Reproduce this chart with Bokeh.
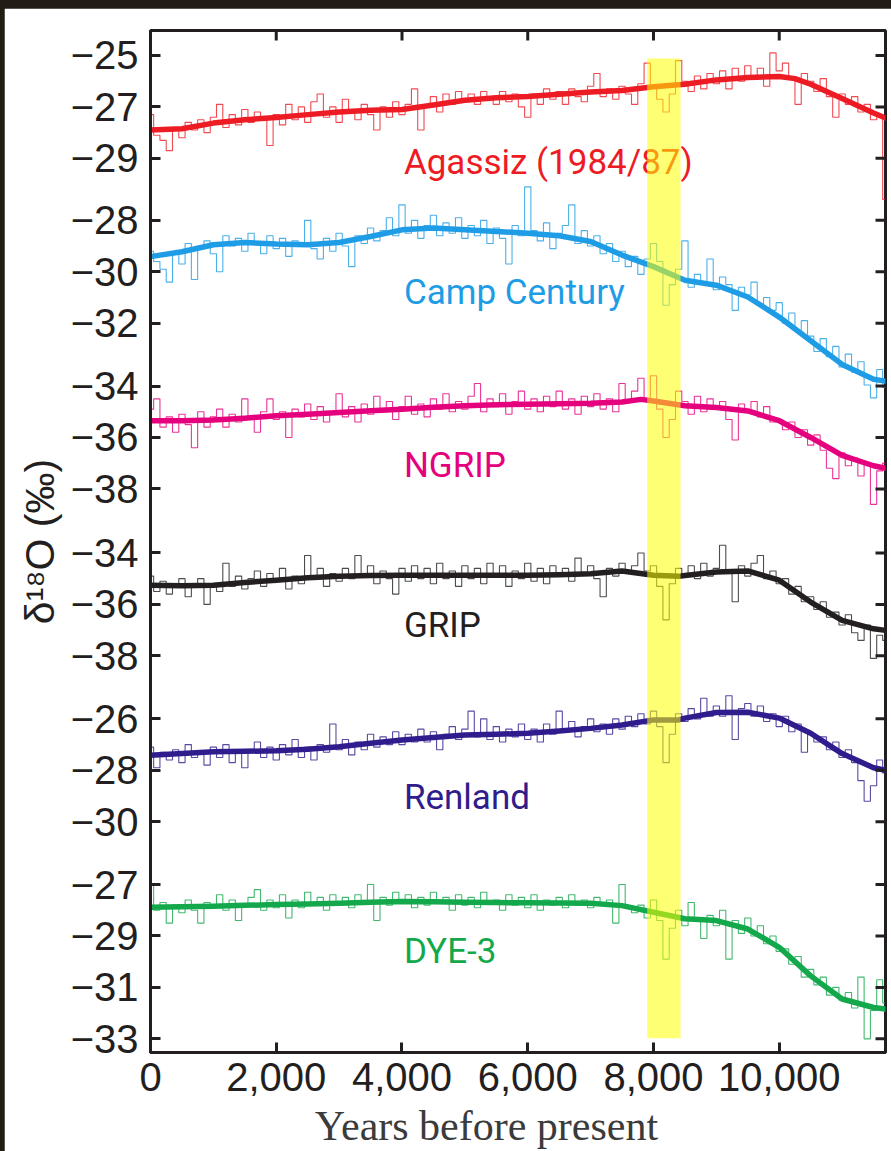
from bokeh.plotting import figure
from bokeh.models import (Range1d, FixedTicker, NumeralTickFormatter, ColumnDataSource)
from bokeh.embed import file_html
from bokeh.resources import INLINE
from bokeh.core.properties import value

# ---------------- data (delta 18O, permil) ----------------
raw_years = list(range(0, 11700, 100)) + [11690]

agassiz_raw = [
    -27.3, -28.1, -28.3, -28.7, -27.8, -28.2, -27.6, -27.9, -27.5, -28.0,
    -27.4, -26.9, -27.8, -27.3, -27.7, -27.1, -27.6, -27.2, -27.5, -28.5,
    -27.3, -27.7, -26.9, -27.5, -27.0, -27.6, -26.8, -26.5, -27.4, -27.0,
    -27.6, -26.7, -27.2, -27.5, -26.9, -27.3, -27.9, -27.0, -27.4, -26.8,
    -27.3, -26.9, -26.3, -27.9, -27.0, -26.6, -27.2, -26.5, -26.9, -26.4,
    -26.8, -26.5, -26.9, -26.4, -26.7, -26.9, -26.4, -26.8, -26.5, -27.0,
    -27.4, -26.5, -26.9, -26.3, -26.7, -26.4, -26.9, -26.3, -26.6, -26.8,
    -26.2, -25.7, -26.6, -26.3, -26.7, -26.2, -26.5, -26.9, -26.1, -25.3,
    -26.2, -26.7, -27.2, -26.5, -25.2, -26.0, -26.4, -25.8, -26.3, -25.7,
    -26.1, -25.6, -26.3, -25.5, -26.0, -25.4, -25.9, -25.5, -26.2, -24.9,
    -25.6, -25.3, -25.9, -26.9, -25.7, -26.0, -26.4, -25.9, -26.6, -27.4,
    -26.5, -26.9, -26.6, -27.2, -26.9, -27.5, -27.3, -30.6]
camp_raw = [
    -29.2, -29.6, -29.9, -30.4, -29.3, -29.7, -28.9, -30.3, -29.1, -28.8,
    -29.3, -30.0, -28.6, -29.0, -28.7, -29.2, -28.5, -28.9, -29.3, -28.6,
    -29.1, -28.7, -29.4, -28.8, -29.0, -28.0, -29.1, -29.5, -28.7, -29.2,
    -28.5, -29.0, -29.8, -28.6, -28.9, -28.3, -28.8, -28.4, -27.9, -28.6,
    -27.4, -28.5, -28.0, -28.7, -28.2, -27.8, -28.6, -28.1, -28.5, -27.9,
    -28.7, -28.2, -28.6, -28.0, -28.9, -28.3, -28.7, -29.7, -28.2, -28.6,
    -26.7, -28.4, -28.8, -28.1, -29.1, -28.5, -28.2, -27.4, -28.9, -28.4,
    -29.0, -28.6, -29.3, -28.9, -29.6, -29.2, -29.8, -29.4, -30.1, -29.5,
    -28.9, -29.6, -31.3, -30.5, -29.9, -28.8, -30.6, -30.1, -30.4, -29.5,
    -30.7, -30.2, -30.5, -31.5, -30.6, -30.9, -30.4, -31.3, -31.0, -31.5,
    -31.2, -32.0, -31.6, -32.3, -31.9, -32.5, -33.1, -32.6, -33.3, -32.9,
    -33.7, -33.2, -33.9, -33.5, -34.4, -34.9, -33.8, -34.5]
ngrip_raw = [
    -34.9, -34.5, -35.6, -35.2, -35.8, -35.1, -35.5, -36.4, -35.0, -35.6,
    -35.2, -34.9, -35.6, -35.1, -35.4, -34.5, -35.3, -35.8, -35.0, -34.5,
    -35.3, -35.0, -36.0, -34.9, -35.2, -34.7, -35.3, -34.8, -35.4, -35.0,
    -34.3, -35.2, -34.8, -35.4, -34.7, -35.1, -34.4, -35.0, -34.6, -35.3,
    -34.8, -34.4, -35.1, -34.7, -35.2, -34.5, -34.9, -34.3, -35.0, -34.6,
    -34.9, -34.4, -33.9, -35.0, -34.5, -34.8, -34.3, -35.1, -34.6, -34.2,
    -34.9, -34.5, -35.0, -34.4, -34.8, -34.2, -34.9, -34.5, -35.1, -34.4,
    -34.8, -34.3, -34.9, -34.5, -35.0, -33.9, -34.6, -34.2, -33.7, -34.5,
    -33.6, -34.9, -36.0, -35.3, -34.2, -34.6, -35.1, -34.4, -35.0, -34.5,
    -34.9, -34.6, -35.3, -36.1, -34.7, -35.0, -34.6, -35.2, -34.8, -35.4,
    -35.3, -35.7, -35.4, -36.0, -35.7, -36.3, -35.9, -36.5, -37.2, -37.6,
    -36.6, -37.1, -36.8, -37.5, -37.0, -38.6, -37.3, -37.0]
grip_raw = [
    -34.9, -35.5, -35.1, -35.6, -35.2, -35.0, -35.7, -35.3, -35.0, -36.0,
    -35.2, -35.5, -34.4, -35.3, -34.9, -35.4, -35.0, -34.7, -35.3, -34.8,
    -35.1, -34.6, -35.4, -34.9, -35.2, -34.1, -35.0, -34.6, -35.3, -34.8,
    -35.1, -34.6, -35.0, -34.1, -34.9, -34.5, -35.2, -34.7, -35.0, -35.6,
    -34.6, -35.1, -34.5, -35.0, -34.6, -35.2, -34.4, -35.0, -34.7, -35.3,
    -34.5, -35.0, -34.6, -35.2, -34.4, -34.9, -34.5, -35.3, -34.7, -35.0,
    -34.4, -35.1, -34.6, -35.2, -34.5, -34.9, -34.6, -35.1, -34.2, -34.8,
    -34.5, -35.0, -35.7, -34.6, -34.9, -34.4, -34.8, -34.5, -34.0, -34.7,
    -34.5, -35.3, -36.6, -35.2, -34.6, -34.9, -34.5, -35.0, -34.4, -34.9,
    -34.6, -33.7, -34.8, -35.9, -34.5, -34.9, -34.4, -34.1, -35.0, -34.7,
    -35.2, -35.0, -35.6, -35.3, -35.9, -35.7, -36.2, -35.9, -36.5, -36.3,
    -36.8, -36.4, -37.1, -37.4, -36.8, -38.1, -37.2, -37.4]
renland_raw = [
    -27.1, -27.9, -27.3, -27.6, -27.2, -27.7, -27.0, -27.5, -27.3, -27.8,
    -27.1, -27.5, -27.0, -27.7, -27.2, -27.9, -27.3, -26.9, -27.5, -27.1,
    -27.6, -27.0, -27.4, -26.8, -27.5, -27.1, -27.6, -27.0, -27.3, -26.2,
    -27.2, -26.8, -27.4, -26.9, -27.2, -26.6, -27.1, -26.7, -27.0, -26.5,
    -27.0, -26.6, -26.9, -26.4, -26.9, -26.5, -27.2, -26.6, -26.3, -26.8,
    -26.4, -25.7, -26.7, -26.0, -26.8, -26.3, -26.9, -26.4, -26.7, -26.2,
    -26.8, -26.4, -26.9, -26.2, -26.6, -25.7, -26.5, -26.1, -26.7, -26.3,
    -26.0, -26.5, -26.2, -26.6, -26.0, -26.4, -25.9, -26.3, -25.8, -26.2,
    -25.7, -26.3, -27.7, -26.6, -25.8, -26.1, -25.6, -26.0, -25.2, -25.9,
    -25.5, -25.9, -25.1, -26.8, -25.6, -25.4, -25.9, -25.5, -26.1, -25.8,
    -26.3, -25.9, -26.5, -26.2, -27.3, -26.6, -26.9, -26.7, -27.2, -26.9,
    -27.5, -27.2, -27.7, -28.4, -29.2, -28.6, -27.6, -28.1]
dye3_raw = [
    -27.0, -28.0, -27.7, -28.5, -27.8, -28.1, -27.6, -28.0, -28.5, -27.7,
    -27.9, -27.4, -28.0, -27.6, -28.4, -27.8, -27.5, -27.2, -28.0, -27.6,
    -27.9, -27.4, -28.3, -27.6, -27.9, -27.3, -27.8, -27.5, -28.0, -27.4,
    -27.8, -27.5, -27.9, -27.4, -27.7, -27.0, -28.4, -27.5, -27.8, -27.3,
    -27.7, -27.4, -27.9, -27.5, -27.8, -27.3, -27.7, -27.5, -28.0, -27.4,
    -27.8, -27.5, -27.9, -27.3, -27.7, -27.6, -28.0, -27.4, -27.8, -27.5,
    -27.9, -27.4, -28.0, -27.6, -27.8, -27.5, -27.9, -27.4, -27.8, -27.6,
    -27.9, -27.5, -27.8, -27.6, -28.5, -27.0, -27.9, -28.1, -27.8, -28.3,
    -27.6, -28.4, -29.9, -28.7, -28.0, -28.6, -27.7, -28.3, -29.1, -28.2,
    -28.6, -28.0, -29.9, -28.4, -28.9, -28.3, -29.0, -28.6, -29.3, -29.0,
    -29.6, -29.5, -30.1, -29.8, -30.6, -30.3, -30.9, -30.6, -31.3, -31.0,
    -31.5, -31.2, -31.8, -30.6, -33.0, -31.9, -30.7, -31.6]

std_years = [0, 500, 1000, 1500, 2000, 2500, 3000, 3500, 4000, 4500, 5000, 5500,
             6000, 6500, 7000, 7500, 8000, 8500, 9000, 9500, 10000, 10500, 11000,
             11500, 11690]
agassiz_sm_years = [0, 500, 1000, 1500, 2000, 2500, 3000, 3500, 4000, 4500, 5000,
                    5500, 6000, 6500, 7000, 7500, 8000, 8500, 9000, 9500, 10000,
                    10250, 10500, 11000, 11500, 11690]
agassiz_smooth = [-27.9, -27.85, -27.63, -27.5, -27.41, -27.3, -27.2, -27.13, -27.1,
                  -26.93, -26.74, -26.64, -26.6, -26.51, -26.42, -26.36, -26.22,
                  -26.12, -25.95, -25.86, -25.82, -25.9, -26.12, -26.67, -27.24, -27.43]
camp_smooth = [-29.41, -29.22, -28.95, -28.86, -28.92, -28.95, -28.86, -28.63, -28.37,
               -28.3, -28.37, -28.43, -28.5, -28.6, -28.82, -29.35, -29.8, -30.33,
               -30.52, -30.98, -31.76, -32.68, -33.6, -34.18, -34.25]
ngrip_sm_years = [0, 500, 1000, 1500, 2000, 2500, 3000, 3500, 4000, 4500, 5000, 5500,
                  6000, 6500, 7000, 7500, 7800, 8000, 8500, 9000, 9500, 10000, 10500,
                  11000, 11500, 11690]
ngrip_smooth = [-35.35, -35.35, -35.32, -35.25, -35.16, -35.1, -35.03, -34.96, -34.9,
                -34.83, -34.77, -34.73, -34.71, -34.69, -34.67, -34.62, -34.52, -34.58,
                -34.77, -34.84, -34.97, -35.35, -36.0, -36.7, -37.1, -37.2]
grip_sm_years = [0, 500, 1000, 1500, 2000, 2500, 3000, 3500, 4000, 4500, 5000, 5500,
                 6000, 6500, 7000, 7500, 8000, 8400, 8500, 9000, 9500, 10000, 10500,
                 11000, 11500, 11690]
grip_smooth = [-35.26, -35.28, -35.26, -35.15, -35.06, -34.96, -34.91, -34.88, -34.87,
               -34.87, -34.87, -34.87, -34.87, -34.85, -34.81, -34.7, -34.87, -34.91,
               -34.88, -34.74, -34.7, -35.06, -35.91, -36.62, -36.95, -37.01]
renland_sm_years = grip_sm_years
renland_smooth = [-27.41, -27.35, -27.28, -27.26, -27.24, -27.18, -27.08, -26.95, -26.82,
                  -26.72, -26.63, -26.6, -26.56, -26.47, -26.37, -26.24, -26.04, -26.04,
                  -25.97, -25.75, -25.74, -25.97, -26.56, -27.35, -27.9, -28.0]
dye3_smooth = [-27.88, -27.86, -27.84, -27.81, -27.78, -27.76, -27.73, -27.69, -27.66,
               -27.67, -27.69, -27.7, -27.71, -27.72, -27.73, -27.82, -28.08, -28.33,
               -28.4, -28.73, -29.44, -30.55, -31.45, -31.78, -31.84]

series_names = ["Agassiz (1984/87)", "Camp Century", "NGRIP", "GRIP", "Renland", "DYE-3"]
series_ticks = [[-25, -27, -29], [-28, -30, -32], [-34, -36, -38],
                [-34, -36, -38], [-26, -28, -30], [-27, -29, -31, -33]]
x_ticks = [0, 2000, 4000, 6000, 8000, 10000]
event_start, event_end = 7900, 8430   # 8.2 ka event band (years BP)

# ---------------- layout / style ----------------
colors = ["#ED1C24", "#1E9CE5", "#E5007E", "#231F20", "#301C8C", "#13A84B"]
offsets = [0.0, -3.41, -3.85, -10.34, -24.79, -30.23]   # stacking of panels
label_vals = [-29.15, -30.81, -37.1, -36.81, -29.07, -29.6]  # label baselines (own scale)
label_year = 4030
band_top, band_bottom = -25.12, -63.21
y_lo, y_hi = -63.76, -24.03
x_max = 11690
tick_len_x, tick_len_y = 159, 0.39   # 10 px inward ticks on top / right

raw_sets = [agassiz_raw, camp_raw, ngrip_raw, grip_raw, renland_raw, dye3_raw]
smooth_sets = [(agassiz_sm_years, agassiz_smooth), (std_years, camp_smooth),
               (ngrip_sm_years, ngrip_smooth), (grip_sm_years, grip_smooth),
               (renland_sm_years, renland_smooth), (std_years, dye3_smooth)]

AX = "#231F20"
p = figure(width=887, height=1143, x_range=Range1d(0, x_max), y_range=Range1d(y_lo, y_hi),
           output_backend="svg", toolbar_location=None,
           min_border_left=146, min_border_right=6, min_border_top=22, min_border_bottom=98)
p.margin = (8, 0, 0, 4)
p.background_fill_color = "white"
p.border_fill_color = "white"
p.outline_line_color = AX
p.outline_line_width = 3
p.xgrid.visible = False
p.ygrid.visible = False

for raw, (sy, sv), col, off in zip(raw_sets, smooth_sets, colors, offsets):
    p.step(raw_years, [v + off for v in raw], mode="center", line_color=col,
           line_width=1.1, line_alpha=0.8)
    p.line(sy, [v + off for v in sv], line_color=col, line_width=5.5,
           line_cap="round", line_join="round")

lab_src = ColumnDataSource(dict(x=[label_year] * len(series_names),
                                y=[v + o for v, o in zip(label_vals, offsets)],
                                text=series_names, color=colors))
p.text(x="x", y="y", text="text", text_color="color", source=lab_src,
       text_font=value("Roboto"), text_font_size=value("35px"),
       text_baseline="alphabetic", text_align="left")

# 8.2 ka event highlight
p.quad(left=[event_start], right=[event_end], top=[band_top], bottom=[band_bottom],
       fill_color="#FFFF00", fill_alpha=0.55, line_color=None)

# y ticks (stacked panels)
all_ticks, overrides = [], {}
for tks, off in zip(series_ticks, offsets):
    for t in tks:
        pos = round(t + off, 3)
        all_ticks.append(pos)
        overrides[pos] = "\u2212%d" % abs(t)

# mirrored inward ticks on the top and right edges of the frame
p.segment(x0=x_ticks, x1=x_ticks, y0=[y_hi] * len(x_ticks),
          y1=[y_hi - tick_len_y] * len(x_ticks), line_color=AX, line_width=3)
p.segment(x0=[x_max] * len(all_ticks), x1=[x_max - tick_len_x] * len(all_ticks),
          y0=all_ticks, y1=all_ticks, line_color=AX, line_width=3)


def style_axis(ax):
    ax.axis_line_color = AX
    ax.axis_line_width = 3
    ax.major_tick_line_color = AX
    ax.major_tick_line_width = 3
    ax.major_tick_in = 10
    ax.major_tick_out = 0
    ax.minor_tick_line_color = None
    ax.major_label_text_font = "Liberation Sans"
    ax.major_label_text_font_size = "40px"
    ax.major_label_text_color = AX
    ax.axis_label_text_font_style = "normal"


yax = p.yaxis[0]
yax.ticker = FixedTicker(ticks=all_ticks, minor_ticks=[])
yax.major_label_overrides = overrides
style_axis(yax)
yax.major_label_standoff = 12
yax.axis_label = "\u03b4\u00b9\u2078O (\u2030)"
yax.axis_label_text_font = "Liberation Sans"
yax.axis_label_text_font_size = "41px"
yax.axis_label_text_color = AX
yax.axis_label_standoff = 5

xax = p.xaxis[0]
xax.ticker = FixedTicker(ticks=x_ticks, minor_ticks=[])
xax.formatter = NumeralTickFormatter(format="0,0")
style_axis(xax)
xax.major_label_standoff = 10
xax.axis_label = "Years before present" + "\u00a0" * 6
xax.axis_label_text_font = "Liberation Serif"
xax.axis_label_text_font_size = "42px"
xax.axis_label_text_color = "#3B3B3B"
xax.axis_label_standoff = 9

html = file_html(p, INLINE, title="d18O Greenland ice cores")
html = html.replace("</head>",
                    "<style>html,body{background:#211D14;margin:0;}</style></head>", 1)
open("out.html", "w").write(html)
